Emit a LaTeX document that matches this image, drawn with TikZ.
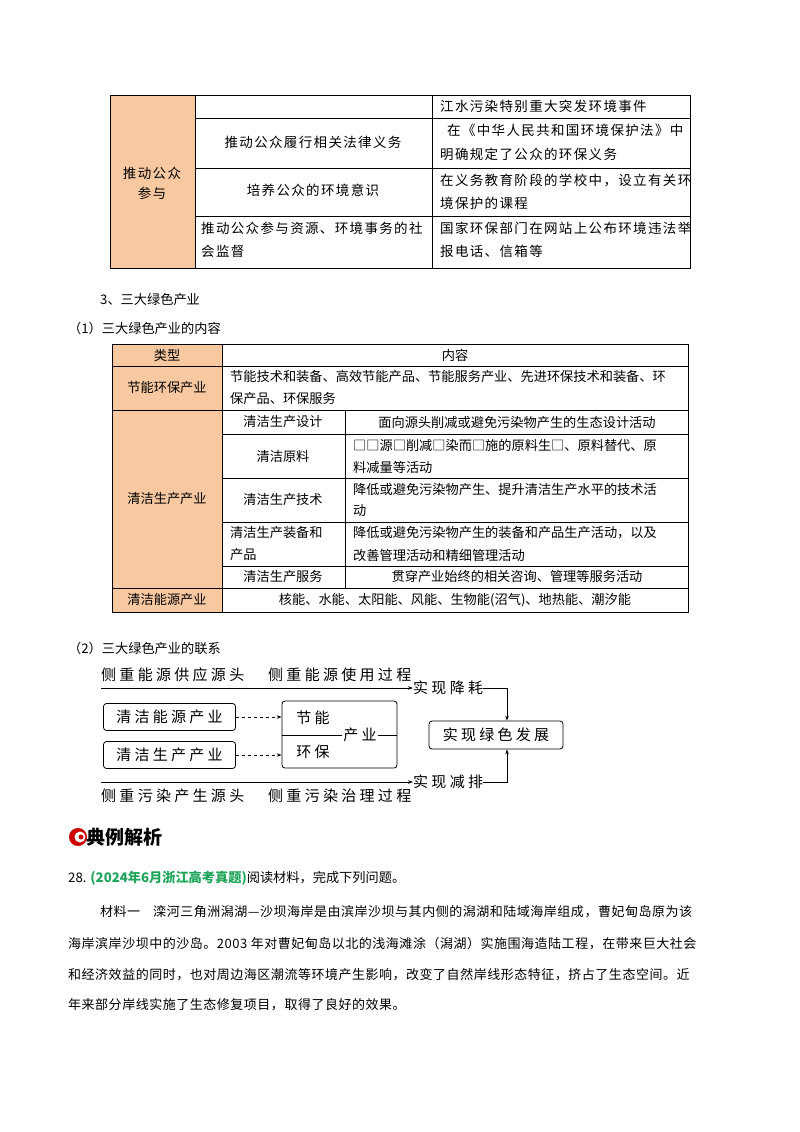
\documentclass[tikz,border=0pt]{standalone}
\usepackage{fontspec}
\setmainfont{Noto Sans CJK SC}
\newfontfamily\dgm[LetterSpace=22]{Noto Sans CJK SC}
\newfontfamily\para[LetterSpace=4]{Noto Sans CJK SC}
\newfontfamily\tone[LetterSpace=10]{Noto Sans CJK SC}
\usetikzlibrary{arrows.meta}
\definecolor{org}{HTML}{F8C8A0}
\definecolor{grn}{HTML}{1FA55A}
\tikzset{
  t/.style={font=\fontsize{13.2}{15}\selectfont, inner sep=0pt},
  u/.style={font=\tone\fontsize{13.5}{15}\selectfont, inner sep=0pt},
  d/.style={font=\dgm\fontsize{15}{17}\selectfont, inner sep=0pt},
  p/.style={font=\para\fontsize{13}{15}\selectfont, inner sep=0pt, anchor=west},
  rb/.style={draw, rounded corners=3pt, line width=0.8pt},
  ar/.style={-{Stealth[length=5pt,width=3.5pt]}, line width=0.7pt},
}
\begin{document}
\begin{tikzpicture}[x=1pt,y=-1pt]
\useasboundingbox (0,0) rectangle (800,1132);
\fill[white] (0,0) rectangle (800,1132);
% ---------- table 1
\fill[org] (110,95) rectangle (195,268);
\draw[line width=0.6pt] (110,95) rectangle (690,268);
\draw[line width=0.6pt] (195,95) -- (195,268) (432,95) -- (432,268);
\draw[line width=0.6pt] (195,118) -- (690,118) (195,168) -- (690,168) (195,216) -- (690,216);
\node[u] (c1) at (152,185) {\begin{tabular}{c}推动公众\\[4pt]参与\end{tabular}};
\node[u,anchor=west] (r0) at (440,106) {江水污染特别重大突发环境事件};
\node[u] (l1) at (313,142) {推动公众履行相关法律义务};
\node[u,anchor=west] (r1a) at (447,130) {在《中华人民共和国环境保护法》中};
\node[u,anchor=west] (r1b) at (440,154) {明确规定了公众的环保义务};
\node[u] (l2) at (313,190) {培养公众的环境意识};
\node[u,anchor=west] (r2a) at (440,180) {在义务教育阶段的学校中，设立有关环};
\node[u,anchor=west] (r2b) at (440,203) {境保护的课程};
\node[u,anchor=west] (l3a) at (201,228) {推动公众参与资源、环境事务的社};
\node[u,anchor=west] (l3b) at (201,251) {会监督};
\node[u,anchor=west] (r3a) at (440,228) {国家环保部门在网站上公布环境违法举};
\node[u,anchor=west] (r3b) at (440,251) {报电话、信箱等};
% ---------- headings
\node[t,anchor=west] (h3) at (100,300) {3、三大绿色产业};
\node[t,anchor=west] (h31) at (68,328) {（1）三大绿色产业的内容};
% ---------- table 2
\fill[org] (112,344) rectangle (222,612);
\draw[line width=0.6pt] (112,344) rectangle (688,612);
\draw[line width=0.6pt] (222,344) -- (222,612) (345,410) -- (345,588);
\draw[line width=0.6pt] (112,366) -- (688,366) (112,410) -- (688,410) (112,588) -- (688,588);
\draw[line width=0.6pt] (222,434) -- (688,434) (222,478) -- (688,478) (222,522) -- (688,522) (222,566) -- (688,566);
\node[t] (th1) at (167,355) {类型};
\node[t] (th2) at (455,355) {内容};
\node[t] (a1) at (167,388) {节能环保产业};
\node[t,anchor=west] (a2) at (230,377) {节能技术和装备、高效节能产品、节能服务产业、先进环保技术和装备、环};
\node[t,anchor=west] (a3) at (230,399) {保产品、环保服务};
\node[t] (b0) at (167,499) {清洁生产产业};
\node[t] (b1) at (283,422) {清洁生产设计};
\node[t] (b1r) at (517,422) {面向源头削减或避免污染物产生的生态设计活动};
\node[t] (b2) at (283,456) {清洁原料};
\node[t,anchor=west] (b2a) at (353,445) {□□源□削减□染而□施的原料生□、原料替代、原};
\node[t,anchor=west] (b2b) at (353,467) {料减量等活动};
\node[t] (b3) at (283,500) {清洁生产技术};
\node[t,anchor=west] (b3a) at (353,489) {降低或避免污染物产生、提升清洁生产水平的技术活};
\node[t,anchor=west] (b3b) at (353,511) {动};
\node[t,anchor=west] (b4a) at (230,533) {清洁生产装备和};
\node[t,anchor=west] (b4b) at (230,555) {产品};
\node[t,anchor=west] (b4c) at (353,533) {降低或避免污染物产生的装备和产品生产活动，以及};
\node[t,anchor=west] (b4d) at (353,555) {改善管理活动和精细管理活动};
\node[t] (b5) at (283,577) {清洁生产服务};
\node[t] (b5r) at (517,577) {贯穿产业始终的相关咨询、管理等服务活动};
\node[t] (c0) at (167,600) {清洁能源产业};
\node[t] (c0r) at (455,600) {核能、水能、太阳能、风能、生物能(沼气)、地热能、潮汐能};
% ---------- diagram
\node[t,anchor=west] (h32) at (68,648) {（2）三大绿色产业的联系};
\coordinate (tl) at (101,688);
\node[d,anchor=west] (jh) at (413,688) {实现降耗};
\draw[ar] (tl) -- (jh.west);
\node[d,anchor=west] (tt1) at (101,675) {侧重能源供应源头};
\node[d,anchor=west] (tt2) at (268,675) {侧重能源使用过程};
\coordinate (bl) at (101,782);
\node[d,anchor=west] (jp) at (413,782) {实现减排};
\draw[ar] (bl) -- (jp.west);
\node[d,anchor=west] (bt1) at (101,796) {侧重污染产生源头};
\node[d,anchor=west] (bt2) at (268,796) {侧重污染治理过程};
\node[d,rb,minimum width=132pt,minimum height=27pt] (ne) at (169.5,717) {清洁能源产业};
\node[d,rb,minimum width=132pt,minimum height=27pt] (sc) at (169.5,755) {清洁生产产业};
\node[rb,minimum width=115pt,minimum height=67pt,inner sep=0pt] (big) at (339.5,734.5) {};
\node[d] (jn) at (313,718) {节能};
\node[d] (hb) at (313,752) {环保};
\node[d,fill=white,inner sep=1pt] (cy) at (360,735) {产业};
\draw[line width=0.7pt] (big.west |- cy) -- (cy.west) (cy.east) -- (big.east |- cy);
\draw[ar,dashed] (ne.east) -- (big.west |- ne);
\draw[ar,dashed] (sc.east) -- (big.west |- sc);
\node[d,rb,minimum width=134pt,minimum height=28pt] (gd) at (496,735) {实现绿色发展};
\draw[ar] (jh.east) -| (gd.north -| 507,0);
\draw[ar] (jp.east) -| (gd.south -| 507,0);
% ---------- example section
\fill[red!80!black] (78,837) circle (9);
\fill[white] (80,837) circle (5.5);
\fill[red!80!black] (81,837) circle (2.5);
\node[inner sep=0pt,anchor=west,font=\fontsize{19}{21}\selectfont\bfseries] (dl) at (86,837) {典例解析};
\node[t,anchor=west] (q) at (68,878) {28. {\color{grn}\bfseries(2024年6月浙江高考真题)}阅读材料，完成下列问题。};
\node[p] (p1) at (100,912) {材料一\quad 滦河三角洲潟湖—沙坝海岸是由滨岸沙坝与其内侧的潟湖和陆域海岸组成，曹妃甸岛原为该};
\node[p] (p2) at (68,944) {海岸滨岸沙坝中的沙岛。2003 年对曹妃甸岛以北的浅海滩涂（潟湖）实施围海造陆工程，在带来巨大社会};
\node[p] (p3) at (68,975) {和经济效益的同时，也对周边海区潮流等环境产生影响，改变了自然岸线形态特征，挤占了生态空间。近};
\node[p] (p4) at (68,1005) {年来部分岸线实施了生态修复项目，取得了良好的效果。};
\end{tikzpicture}
\end{document}
